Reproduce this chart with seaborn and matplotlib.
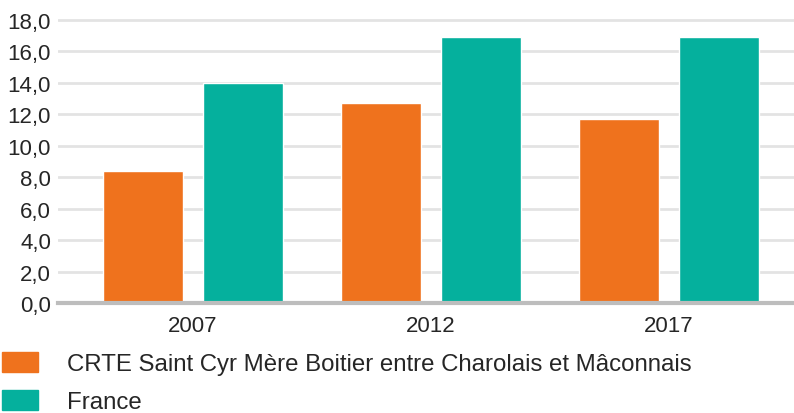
import pandas as pd
import matplotlib
matplotlib.use('Agg')
import matplotlib.pyplot as plt
import seaborn as sns
from matplotlib.ticker import FuncFormatter

years = ['2007', '2012', '2017']
crte = [8.4, 12.7, 11.7]
france = [14.0, 16.9, 16.9]
labels = ['CRTE Saint Cyr Mère Boitier entre Charolais et Mâconnais', 'France']
colors = ['#EF721D', '#05B09D']

df = pd.DataFrame({
    'year': years * 2,
    'value': crte + france,
    'zone': [labels[0]] * 3 + [labels[1]] * 3,
})

sns.set_style('white')
plt.rcParams['font.family'] = ['Liberation Sans', 'DejaVu Sans']

fig = plt.figure(figsize=(7.94, 4.14), dpi=100)
ax = fig.add_axes([58 / 794, 1 - 304 / 414, 1 - 58 / 794, (304 - 20) / 414])

sns.barplot(data=df, x='year', y='value', hue='zone', palette=colors,
            width=0.84, gap=0.2, saturation=1, ax=ax, zorder=3)

ax.set_ylim(0, 18.05)
ax.set_xlim(-0.567, 2.525)
ax.set_yticks(range(0, 19, 2))
ax.yaxis.set_major_formatter(FuncFormatter(lambda v, p: f'{v:.1f}'.replace('.', ',')))
ax.grid(axis='y', color='#e3e3e3', linewidth=2)
ax.set_axisbelow(True)
for s in ['top', 'right', 'left']:
    ax.spines[s].set_visible(False)
ax.spines['bottom'].set_color('#bdbdbd')
ax.spines['bottom'].set_linewidth(3)
ax.spines['bottom'].set_zorder(4)
ax.tick_params(axis='y', length=0, labelsize=16, pad=5)
ax.tick_params(axis='x', length=7, width=1.5, color='#c8c8c8', labelsize=16, pad=2)
ax.set_xlabel('')
ax.set_ylabel('')

ax.get_legend().remove()
handles = [plt.Rectangle((0, 0), 1, 1, color=c) for c in colors]
fig.legend(handles, labels, loc='upper left', bbox_to_anchor=(2 / 794, 1 - 353 / 414),
           frameon=False, fontsize=17.3, handlelength=1.5, handleheight=0.9,
           handletextpad=1.2, labelspacing=0.6, borderpad=0, borderaxespad=0)

fig.savefig('out.png', dpi=100)
